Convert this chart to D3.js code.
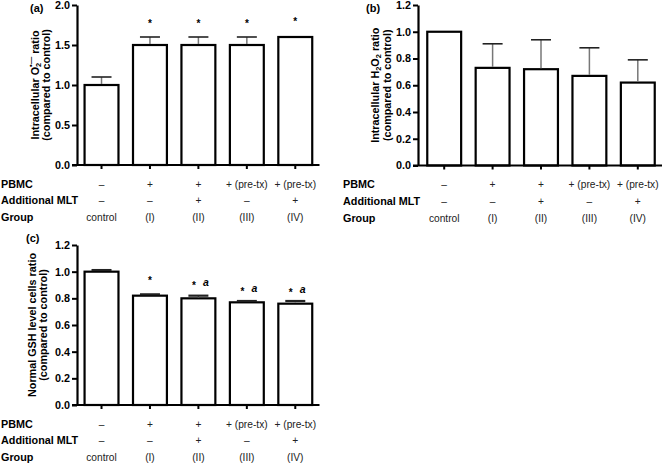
<!DOCTYPE html>
<html><head><meta charset="utf-8">
<script src="https://cdn.jsdelivr.net/npm/d3@7"></script>
<style>
body{margin:0;background:#fff;}
svg{display:block;font-family:Arial,"Liberation Sans",sans-serif;}
</style></head>
<body><svg id="chart" width="665" height="464"></svg>
<script>
// ---- data ----
const groups = ["control", "(I)", "(II)", "(III)", "(IV)"];
const pbmcRow = ["–", "+", "+", "+ (pre-tx)", "+ (pre-tx)"];
const mltRow = ["–", "–", "+", "–", "+"];
const rowLabels = ["PBMC", "Additional MLT", "Group"];

const o2Values = [1.0, 1.5, 1.5, 1.5, 1.6];
const o2Errors = [0.1, 0.1, 0.1, 0.1, 0];
const o2Stars = [null, 1.8, 1.8, 1.8, 1.82];
const o2Ticks = [0, 0.5, 1.0, 1.5, 2.0];

const h2o2Values = [1.0, 0.73, 0.72, 0.67, 0.62];
const h2o2Errors = [0, 0.18, 0.22, 0.21, 0.17];
const h2o2Ticks = [0, 0.2, 0.4, 0.6, 0.8, 1.0, 1.2];

const gshValues = [1.0, 0.82, 0.80, 0.77, 0.76];
const gshErrors = [0.012, 0.01, 0.02, 0.01, 0.02];
const gshStars = [null, 0.95, 0.91, 0.87, 0.86];
const gshMarkA = [false, false, true, true, true];
const gshTicks = [0, 0.2, 0.4, 0.6, 0.8, 1.0, 1.2];

const svg = d3.select("#chart");

function panel(o) {
  const g = svg.append("g");
  const x = d3.scaleBand().domain(groups).range([o.x0, o.x1]).paddingInner(0.3).paddingOuter(0.15);
  const y = d3.scaleLinear().domain([0, o.ymax]).range([o.yb, o.yt]);
  const cx = d => x(d) + x.bandwidth() / 2;

  // bars
  g.selectAll("rect.bar").data(groups).join("rect")
    .attr("x", d => x(d)).attr("width", x.bandwidth())
    .attr("y", (d, i) => y(o.values[i]))
    .attr("height", (d, i) => y(0) - y(o.values[i]))
    .attr("fill", "#fff").attr("stroke", "#000").attr("stroke-width", 2.2);

  // error bars (upper only)
  groups.forEach((d, i) => {
    const e = o.errors[i];
    if (!e) return;
    const top = y(o.values[i] + e);
    g.append("line").attr("x1", cx(d)).attr("x2", cx(d))
      .attr("y1", y(o.values[i]) - 1).attr("y2", top)
      .attr("stroke", "#777").attr("stroke-width", 1.5);
    g.append("line").attr("x1", cx(d) - 10).attr("x2", cx(d) + 10)
      .attr("y1", top).attr("y2", top)
      .attr("stroke", "#222").attr("stroke-width", o.capW || 1.6);
  });

  // stars
  if (o.stars) {
    groups.forEach((d, i) => {
      const s = o.stars[i];
      if (s == null) return;
      const hasA = o.markA && o.markA[i];
      g.append("text").attr("x", cx(d) + (hasA ? -4.5 : 0)).attr("y", y(s) + 5.7)
        .attr("text-anchor", "middle").attr("font-size", 10).attr("font-weight", "bold")
        .text("*");
      if (hasA) {
        g.append("text").attr("x", cx(d) + 7.5).attr("y", y(s) + 2.5)
          .attr("text-anchor", "middle").attr("font-size", 10.5).attr("font-weight", "bold")
          .attr("font-style", "italic").text("a");
      }
    });
  }

  // axes
  const ya = g.append("g").attr("transform", `translate(${o.ax},0)`)
    .call(d3.axisLeft(y).tickValues(o.ticks).tickFormat(d3.format(".1f")).tickSize(5).tickSizeOuter(0).tickPadding(2));
  ya.select(".domain").attr("stroke-width", 2.2);
  ya.selectAll(".tick line").attr("stroke-width", 2);
  ya.selectAll(".tick text").attr("font-size", 10.8).attr("font-weight", "bold")
    .attr("font-family", "Arial, 'Liberation Sans', sans-serif").attr("fill", "#000");

  const xa = g.append("g").attr("transform", `translate(0,${o.yb})`)
    .call(d3.axisBottom(x).tickSize(4).tickSizeOuter(0).tickFormat(""));
  xa.select(".domain").attr("stroke-width", 2.2).attr("d", `M${o.ax - 5},0H${o.x1}`);
  xa.selectAll(".tick line").attr("stroke-width", 2);

  // y-axis title
  const cy = (o.yt + o.yb) / 2;
  const t1 = g.append("text").attr("transform", `translate(${o.ax + o.t1},${cy}) rotate(-90)`)
    .attr("text-anchor", "middle").attr("font-size", 10.8).attr("font-weight", "bold");
  o.title(t1);
  g.append("text").attr("transform", `translate(${o.ax + o.t2},${cy}) rotate(-90)`)
    .attr("text-anchor", "middle").attr("font-size", 10.8).attr("font-weight", "bold")
    .text("(compared to control)");

  // panel letter
  g.append("text").attr("x", o.lx).attr("y", o.ly).attr("font-size", 11).attr("font-weight", "bold").text(o.letter);

  // rows under the axis
  const rowY = [o.yb + 22.5, o.yb + 39, o.yb + 56];
  rowLabels.forEach((r, k) => {
    g.append("text").attr("x", o.rx).attr("y", rowY[k]).attr("font-size", 10.8)
      .attr("font-weight", "bold").text(r);
  });
  [pbmcRow, mltRow, groups].forEach((row, k) => {
    g.selectAll(null).data(groups).join("text")
      .attr("x", d => cx(d)).attr("y", rowY[k])
      .attr("text-anchor", "middle").attr("font-size", 10.2).attr("fill", "#222")
      .text((d, i) => row[i]);
  });
}

panel({
  letter: "(a)", lx: 30, ly: 12,
  ax: 77, x0: 77.3, x1: 319.5, yb: 165, yt: 5, ymax: 2.0,
  values: o2Values, errors: o2Errors, stars: o2Stars, ticks: o2Ticks,
  rx: 1, t1: -38.5, t2: -27,
  title: t => {
    t.append("tspan").text("Intracellular O");
    t.append("tspan").attr("font-size", 7.5).attr("dy", 2.5).text("2");
    t.append("tspan").attr("font-size", 7.5).attr("dx", -4.2).attr("dy", -8).text("•—");
    t.append("tspan").attr("font-size", 10.8).attr("dy", 5.5).text(" ratio");
  }
});

panel({
  letter: "(b)", lx: 366, ly: 12,
  ax: 418, x0: 420, x1: 662, yb: 165.5, yt: 5, ymax: 1.2,
  values: h2o2Values, errors: h2o2Errors, ticks: h2o2Ticks,
  rx: 343, t1: -39.5, t2: -27.5,
  title: t => {
    t.append("tspan").text("Intracellular H");
    t.append("tspan").attr("font-size", 7.5).attr("dy", 2.5).text("2");
    t.append("tspan").attr("font-size", 10.8).attr("dy", -2.5).text("O");
    t.append("tspan").attr("font-size", 7.5).attr("dy", 2.5).text("2");
    t.append("tspan").attr("font-size", 10.8).attr("dy", -2.5).text(" ratio");
  }
});

panel({
  letter: "(c)", lx: 26, ly: 242,
  ax: 77, x0: 77.3, x1: 319.5, yb: 405, yt: 245, ymax: 1.2,
  values: gshValues, errors: gshErrors, stars: gshStars, markA: gshMarkA, ticks: gshTicks,
  capW: 2.2,
  rx: 1, t1: -41, t2: -30,
  title: t => { t.text("Normal GSH level cells ratio"); }
});
</script></body></html>
